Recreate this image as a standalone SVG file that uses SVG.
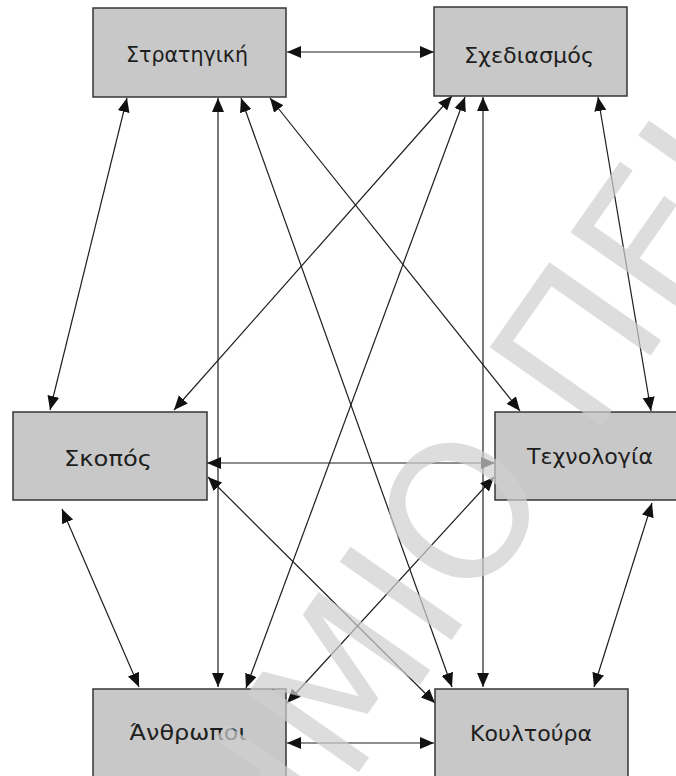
<svg xmlns="http://www.w3.org/2000/svg" width="676" height="776" viewBox="0 0 676 776">
  <style>
    .box { fill: #c8c8c8; stroke: #363636; stroke-width: 1.5; }
    .label { font-family: "DejaVu Sans", Verdana, sans-serif; font-size: 22px; fill: #1e1e1e; text-anchor: middle; }
    .link { fill: none; stroke: #1e1e1e; stroke-width: 1.2; marker-start: url(#head); marker-end: url(#head); }
    .mark { font-family: "DejaVu Sans", sans-serif; font-size: 187px; fill: #d0d0d0; opacity: 0.7; }
  </style>
  <defs>
    <marker id="head" markerUnits="userSpaceOnUse" markerWidth="15" markerHeight="13" refX="14" refY="6" orient="auto-start-reverse">
      <path d="M0,0 L14,6 L0,12 z" fill="#111"/>
    </marker>
  </defs>
  <rect width="676" height="776" fill="#fff"/>

  <g id="connectors">
    <path class="link" d="M287,52 L434,52"/>
    <path class="link" d="M127,98 L50,410"/>
    <path class="link" d="M218,98 L218,687"/>
    <path class="link" d="M241,98 L452,687"/>
    <path class="link" d="M270,98 L520,411"/>
    <path class="link" d="M452,96 L174,410"/>
    <path class="link" d="M465,97 L246,688"/>
    <path class="link" d="M483,97 L483,687"/>
    <path class="link" d="M598,97 L651,411"/>
    <path class="link" d="M207,463 L495,463"/>
    <path class="link" d="M208,477 L435,703"/>
    <path class="link" d="M62,509 L139,687"/>
    <path class="link" d="M494,477 L287,703"/>
    <path class="link" d="M652,503 L594,687"/>
    <path class="link" d="M287,743 L434,743"/>
  </g>

  <g id="strategiki">
    <rect class="box" x="93" y="8" width="193" height="89"/>
    <text class="label" x="187" y="62" textLength="122" lengthAdjust="spacingAndGlyphs">Στρατηγική</text>
  </g>
  <g id="schediasmos">
    <rect class="box" x="434" y="7" width="193" height="89"/>
    <text class="label" x="529" y="63" textLength="130" lengthAdjust="spacingAndGlyphs">Σχεδιασμός</text>
  </g>
  <g id="skopos">
    <rect class="box" x="13" y="412" width="194" height="88"/>
    <text class="label" x="108" y="466" textLength="88" lengthAdjust="spacingAndGlyphs">Σκοπός</text>
  </g>
  <g id="technologia">
    <rect class="box" x="495" y="412" width="190" height="88"/>
    <text class="label" x="590" y="464" textLength="126" lengthAdjust="spacingAndGlyphs">Τεχνολογία</text>
  </g>
  <g id="anthropoi">
    <rect class="box" x="93" y="689" width="193" height="90"/>
    <text class="label" x="188" y="740" textLength="117" lengthAdjust="spacingAndGlyphs">Άνθρωποι</text>
  </g>
  <g id="koultoura">
    <rect class="box" x="435" y="689" width="193" height="90"/>
    <text class="label" x="531" y="741" textLength="122" lengthAdjust="spacingAndGlyphs">Κουλτούρα</text>
  </g>

  <!-- diagonal watermark laid over the chart -->
  <g transform="translate(457,510) rotate(-55)">
    <text class="mark" x="-430" y="70">ΗΜΙΟ ΠΕΙ</text>
  </g>
</svg>
